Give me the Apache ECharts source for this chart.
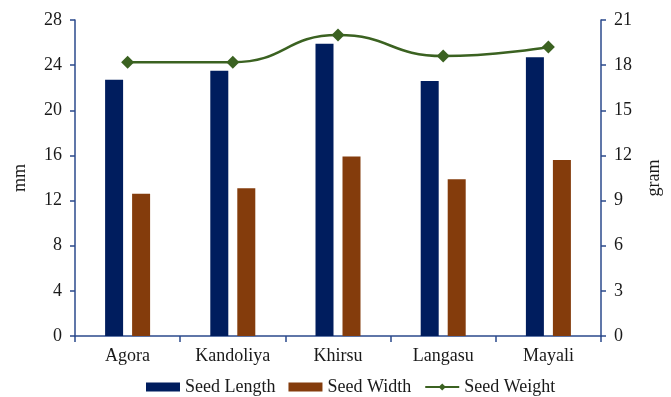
<!DOCTYPE html>
<html>
<head>
<meta charset="utf-8">
<script src="https://cdn.jsdelivr.net/npm/echarts@6/dist/echarts.min.js"></script>
<style>
  html, body { margin: 0; padding: 0; background: #fff; }
  #chart { width: 671px; height: 397px; }
</style>
</head>
<body>
<div id="chart"></div>
<script>
// Seed traits by location
const categories = ['Agora', 'Kandoliya', 'Khirsu', 'Langasu', 'Mayali'];
const seedLength = [22.7, 23.5, 25.9, 22.6, 24.7];   // mm
const seedWidth  = [12.6, 13.1, 15.9, 13.9, 15.6];   // mm
const seedWeight = [18.2, 18.2, 20.0, 18.6, 19.2];   // gram

const FONT = '"Liberation Serif", "Times New Roman", serif';
const AXIS_COLOR = '#2b4a8c';
const TEXT_COLOR = '#1a1a1a';
const FS = 18;
const legendText = { fontFamily: FONT, fontSize: FS, color: TEXT_COLOR };

const chart = echarts.init(document.getElementById('chart'), null, { renderer: 'canvas' });

chart.setOption({
  animation: false,
  backgroundColor: '#ffffff',
  textStyle: { fontFamily: FONT },
  grid: { left: 75, right: 68, top: 20, bottom: 61, containLabel: false },
  legend: {
    top: 373,
    left: 141,
    itemWidth: 34,
    itemHeight: 9,
    itemGap: 13,
    textStyle: legendText,
    data: [
      { name: 'Seed Length', icon: 'rect' },
      { name: 'Seed Width', icon: 'rect' },
      { name: 'Seed Weight' }
    ]
  },
  xAxis: {
    type: 'category',
    data: categories,
    axisLine: { lineStyle: { color: AXIS_COLOR, width: 1.5 } },
    axisTick: { show: true, length: 6, lineStyle: { color: AXIS_COLOR, width: 1.5 } },
    axisLabel: { fontFamily: FONT, fontSize: FS, color: TEXT_COLOR, margin: 11 }
  },
  yAxis: [
    {
      type: 'value',
      min: 0, max: 28, interval: 4,
      name: 'mm',
      nameLocation: 'middle',
      nameGap: 46,
      nameRotate: 90,
      nameTextStyle: { fontFamily: FONT, fontSize: FS, color: TEXT_COLOR },
      axisLine: { show: true, lineStyle: { color: AXIS_COLOR, width: 1.5 } },
      axisTick: { show: true, length: 5, lineStyle: { color: AXIS_COLOR, width: 1.5 } },
      axisLabel: { fontFamily: FONT, fontSize: FS, color: TEXT_COLOR, margin: 13 },
      splitLine: { show: false }
    },
    {
      type: 'value',
      min: 0, max: 21, interval: 3,
      name: 'gram',
      nameLocation: 'middle',
      nameGap: 44,
      nameRotate: 90,
      nameTextStyle: { fontFamily: FONT, fontSize: FS, color: TEXT_COLOR },
      axisLine: { show: true, lineStyle: { color: AXIS_COLOR, width: 1.5 } },
      axisTick: { show: true, length: 5, lineStyle: { color: AXIS_COLOR, width: 1.5 } },
      axisLabel: { fontFamily: FONT, fontSize: FS, color: TEXT_COLOR, margin: 13 },
      splitLine: { show: false }
    }
  ],
  series: [
    {
      name: 'Seed Length',
      type: 'bar',
      yAxisIndex: 0,
      data: seedLength,
      barWidth: 18,
      barGap: '50%',
      itemStyle: { color: '#001d5e' }
    },
    {
      name: 'Seed Width',
      type: 'bar',
      yAxisIndex: 0,
      data: seedWidth,
      barWidth: 18,
      barGap: '50%',
      itemStyle: { color: '#843c0c' }
    },
    {
      name: 'Seed Weight',
      type: 'line',
      yAxisIndex: 1,
      data: seedWeight,
      smooth: 0.5,
      symbol: 'diamond',
      symbolSize: 13,
      lineStyle: { color: '#3b6221', width: 2.5 },
      itemStyle: { color: '#3b6221' },
      z: 5
    }
  ]
});
</script>
</body>
</html>
